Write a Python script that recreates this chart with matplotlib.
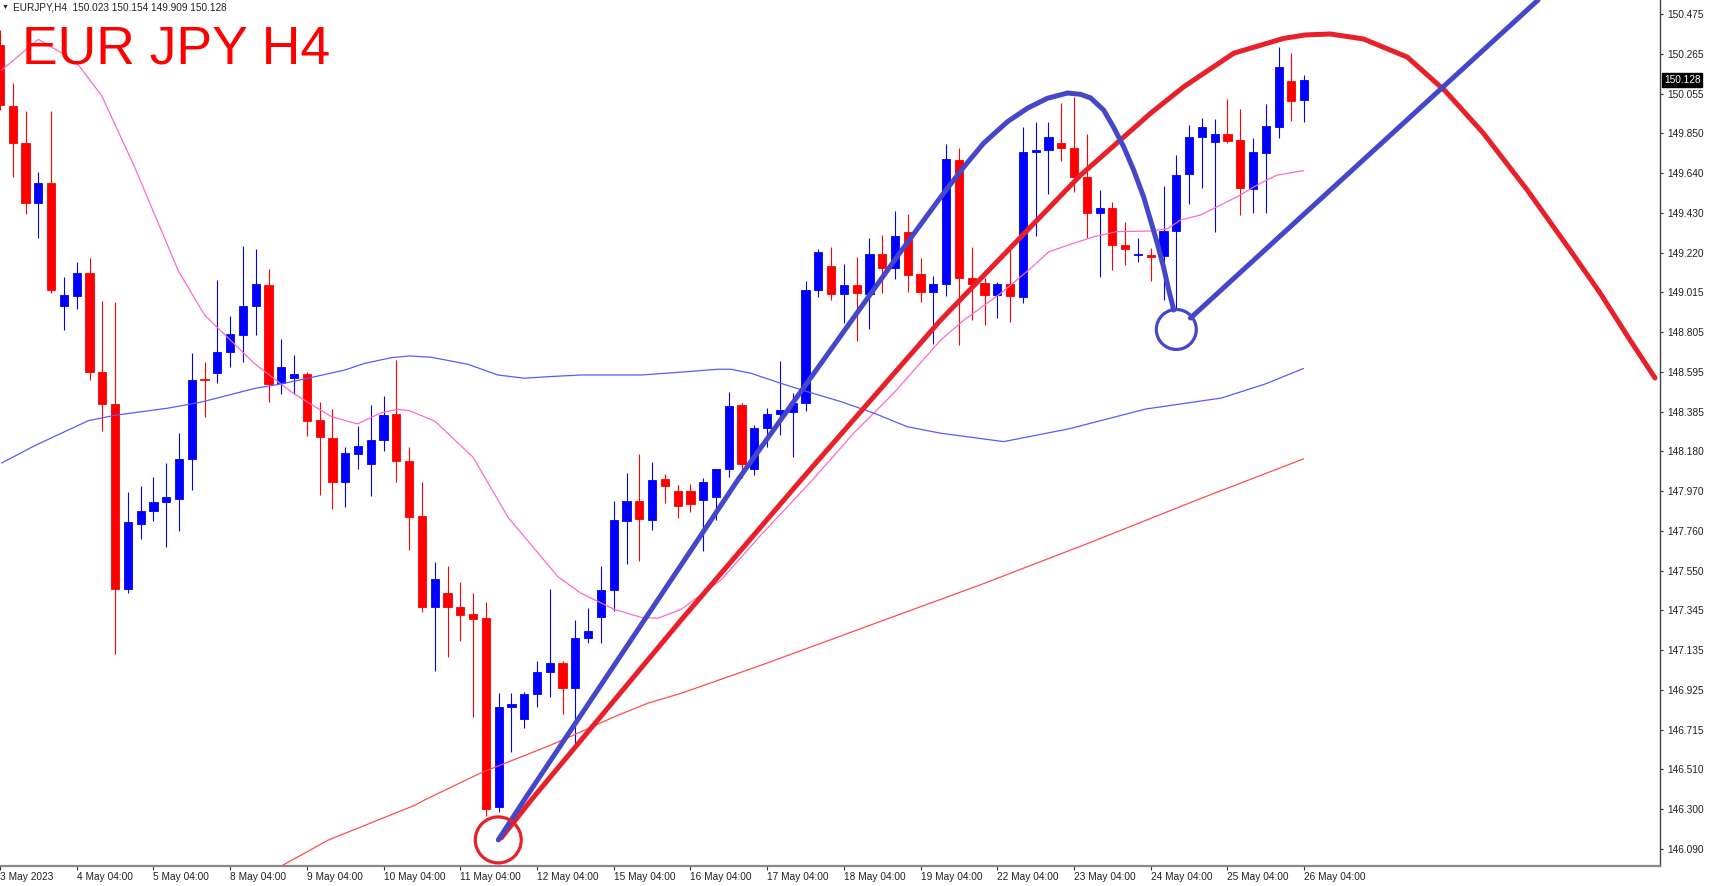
import matplotlib.pyplot as plt
from matplotlib.patches import Ellipse
from matplotlib.transforms import blended_transform_factory

plt.rcParams['font.family'] = ['Liberation Sans', 'DejaVu Sans']

# EURJPY H4 candles, 3 May 04:00 .. 26 May 04:00
opens = [150.312, 149.990, 149.798, 149.483, 149.586, 148.939, 148.993, 149.115, 148.596, 148.424,
         147.453, 147.798, 147.865, 147.913, 147.930, 148.138, 148.558, 148.592, 148.700, 148.789,
         148.939, 149.052, 148.537, 148.564, 148.583, 148.343, 148.250, 148.019, 148.162, 148.111,
         148.238, 148.372, 148.129, 147.838, 147.362, 147.432, 147.359, 147.322, 147.304, 146.310,
         146.837, 146.771, 146.904, 147.021, 147.065, 146.933, 147.199, 147.306, 147.450, 147.812,
         147.917, 147.817, 148.031, 147.971, 147.970, 147.922, 147.938, 148.085, 148.421, 148.085,
         148.299, 148.374, 148.386, 148.433, 149.025, 149.153, 149.004, 149.052, 149.004, 149.213,
         149.139, 149.328, 149.108, 149.013, 149.055, 149.708, 149.090, 149.064, 148.999, 149.055,
         148.990, 149.752, 149.761, 149.799, 149.773, 149.620, 149.431, 149.454, 149.262, 149.207,
         149.209, 149.206, 149.337, 149.633, 149.827, 149.804, 149.845, 149.813, 149.556, 149.746,
         149.883, 150.123, 150.023]
highs = [150.391, 150.115, 149.967, 149.643, 149.967, 149.095, 149.170, 149.192, 148.968, 148.963,
         147.965, 147.998, 148.043, 148.117, 148.275, 148.695, 148.645, 149.076, 148.889, 149.258,
         149.239, 149.136, 148.766, 148.684, 148.596, 148.439, 148.399, 148.199, 148.311, 148.421,
         148.469, 148.658, 148.199, 148.015, 147.595, 147.576, 147.493, 147.432, 147.385, 146.907,
         146.907, 146.916, 147.078, 147.455, 147.078, 147.292, 147.354, 147.576, 147.919, 148.066,
         148.164, 148.124, 148.057, 148.001, 148.006, 148.038, 148.085, 148.488, 148.430, 148.316,
         148.404, 148.654, 148.483, 149.074, 149.241, 149.250, 149.160, 149.197, 149.300, 149.314,
         149.440, 149.423, 149.195, 149.099, 149.791, 149.770, 149.253, 149.087, 149.069, 149.235,
         149.883, 149.909, 149.906, 150.006, 150.041, 149.845, 149.551, 149.489, 149.384, 149.297,
         149.244, 149.572, 149.733, 149.892, 149.927, 149.923, 150.029, 149.976, 149.822, 150.000,
         150.303, 150.269, 150.154]
lows = [149.971, 149.618, 149.423, 149.301, 149.010, 148.813, 148.924, 148.555, 148.283, 147.114,
        147.434, 147.720, 147.814, 147.673, 147.758, 147.973, 148.358, 148.536, 148.621, 148.648,
        148.789, 148.438, 148.479, 148.479, 148.260, 147.949, 147.874, 147.887, 148.084, 147.944,
        148.181, 148.015, 147.660, 147.333, 147.026, 147.099, 147.183, 146.784, 146.263, 146.281,
        146.601, 146.723, 146.837, 146.886, 146.798, 146.645, 147.173, 147.173, 147.341, 147.585,
        147.602, 147.765, 147.908, 147.826, 147.859, 147.655, 147.817, 148.045, 148.036, 148.054,
        148.202, 148.264, 148.150, 148.391, 148.990, 148.973, 148.854, 148.759, 148.821, 149.008,
        149.083, 149.013, 148.964, 148.742, 148.995, 148.737, 148.868, 148.842, 148.878, 148.857,
        148.956, 149.311, 149.528, 149.704, 149.542, 149.300, 149.092, 149.130, 149.157, 149.174,
        149.074, 148.973, 148.920, 149.475, 149.560, 149.330, 149.796, 149.419, 149.430, 149.431,
        149.822, 149.915, 149.909]
closes = [149.997, 149.798, 149.483, 149.586, 149.023, 148.997, 149.115, 148.596, 148.424, 147.453,
          147.808, 147.866, 147.913, 147.936, 148.138, 148.553, 148.550, 148.700, 148.793, 148.939,
          149.055, 148.532, 148.621, 148.583, 148.339, 148.252, 148.019, 148.168, 148.208, 148.238,
          148.369, 148.127, 147.835, 147.362, 147.506, 147.362, 147.318, 147.297, 146.300, 146.837,
          146.851, 146.904, 147.018, 147.065, 146.933, 147.199, 147.236, 147.450, 147.817, 147.917,
          147.823, 148.027, 147.996, 147.893, 147.901, 148.017, 148.085, 148.418, 148.110, 148.299,
          148.374, 148.395, 148.433, 149.025, 149.223, 149.004, 149.052, 149.008, 149.214, 149.139,
          149.311, 149.104, 149.016, 149.057, 149.712, 149.087, 149.055, 148.999, 149.055, 148.995,
          149.749, 149.761, 149.831, 149.773, 149.617, 149.431, 149.454, 149.262, 149.239, 149.212,
          149.200, 149.337, 149.629, 149.829, 149.880, 149.845, 149.809, 149.560, 149.749, 149.887,
          150.198, 150.020, 150.128]

tick_idx = [0, 6, 12, 18, 24, 30, 36, 42, 48, 54, 60, 66, 72, 78, 84, 90, 96, 102]
tick_labels = ['3 May 2023', '4 May 04:00', '5 May 04:00', '8 May 04:00', '9 May 04:00',
               '10 May 04:00', '11 May 04:00', '12 May 04:00', '15 May 04:00', '16 May 04:00',
               '17 May 04:00', '18 May 04:00', '19 May 04:00', '22 May 04:00', '23 May 04:00',
               '24 May 04:00', '25 May 04:00', '26 May 04:00']
price_ticks = [150.475, 150.265, 150.055, 149.850, 149.640, 149.430, 149.220, 149.015, 148.805,
               148.595, 148.385, 148.180, 147.970, 147.760, 147.550, 147.345, 147.135, 146.925,
               146.715, 146.510, 146.300, 146.090]

# moving averages at these bar positions
ma_fast_x = [0.14, 3.0, 4.83, 6.2, 7.95, 10.53, 13.94, 16.0, 19.9, 22.93, 25.92, 27.95, 29.83,
             31.13, 32.04, 34.0, 37.0, 39.73, 43.63, 45.45, 48.05, 50.14, 51.45, 53.27, 56.39,
             59.52, 63.55, 66.78, 69.9, 73.58, 75.4, 78.27, 80.61, 82.04, 83.99, 85.55, 87.38,
             89.98, 91.29, 92.33, 93.89, 95.2, 96.76, 98.58, 99.88, 101.96]
ma_fast_y = [150.181, 150.342, 150.270, 150.202, 150.046, 149.671, 149.127, 148.894, 148.639,
             148.483, 148.360, 148.322, 148.381, 148.399, 148.391, 148.337, 148.147, 147.832,
             147.520, 147.432, 147.348, 147.306, 147.301, 147.348, 147.502, 147.739, 148.028,
             148.274, 148.484, 148.763, 148.868, 149.008, 149.139, 149.227, 149.271, 149.305,
             149.332, 149.335, 149.346, 149.393, 149.419, 149.463, 149.515, 149.586, 149.629,
             149.652]
ma_mid_x = [0.14, 2.72, 6.91, 8.97, 13.16, 15.77, 19.9, 22.0, 24.1, 26.96, 28.52, 30.61, 32.04,
            33.73, 36.6, 38.94, 41.02, 42.85, 45.45, 50.14, 52.74, 56.13, 57.17, 58.73, 61.08,
            63.16, 65.77, 68.37, 70.97, 73.58, 78.5, 83.66, 89.59, 95.53, 98.97, 101.94]
ma_mid_y = [148.117, 148.208, 148.339, 148.367, 148.405, 148.437, 148.508, 148.532, 148.562,
            148.605, 148.640, 148.670, 148.679, 148.672, 148.635, 148.579, 148.562, 148.570,
            148.579, 148.579, 148.591, 148.609, 148.609, 148.588, 148.535, 148.491, 148.439,
            148.378, 148.307, 148.273, 148.229, 148.297, 148.400, 148.458, 148.532, 148.613]
ma_slow_x = [22.0, 25.7, 32.48, 33.21, 37.64, 43.11, 45.45, 48.05, 50.66, 53.27, 59.75, 68.27,
             76.8, 85.3, 93.9, 101.94]
ma_slow_y = [146.000, 146.137, 146.320, 146.347, 146.490, 146.636, 146.705, 146.784, 146.855,
             146.907, 147.060, 147.270, 147.480, 147.700, 147.930, 148.138]

# hand drawn analysis marks (bar position, price)
red_curve_x = [39.2, 41.55, 53.27, 62.64, 73.58, 84.52, 89.98, 92.59, 96.49, 100.4, 102.09,
               104.05, 106.63, 110.06, 113.03, 116.0, 119.44, 122.8, 125.14, 127.48, 129.44]
red_curve_y = [146.147, 146.347, 147.292, 148.027, 148.868, 149.629, 149.953, 150.093, 150.269,
               150.347, 150.365, 150.370, 150.344, 150.249, 150.071, 149.850, 149.551, 149.235,
               149.010, 148.763, 148.563]
blue_curve_x = [38.97, 41.0, 53.27, 57.7, 70.45, 73.58, 75.4, 76.94, 78.79, 80.38, 81.91, 83.5,
                84.52, 85.3, 86.31, 87.09, 87.88, 88.66, 89.44, 89.98, 90.51, 91.0, 91.41, 91.8]
blue_curve_y = [146.137, 146.347, 147.581, 148.027, 149.227, 149.514, 149.673, 149.797, 149.909,
                149.981, 150.032, 150.060, 150.053, 150.034, 149.971, 149.881, 149.778, 149.656,
                149.515, 149.393, 149.271, 149.146, 149.025, 148.920]
blue_line_x = [93.11, 120.3]
blue_line_y = [148.878, 150.549]
red_circle = (38.97, 146.137)
blue_circle = (92.0, 148.818)

fig = plt.figure(figsize=(17.1, 8.86), dpi=100)
ax = fig.add_axes([0, 20 / 886, 1660 / 1710, 866 / 886])

idx = list(range(len(opens)))
cols = ['#0000ff' if c >= o else '#ff0000' for o, c in zip(opens, closes)]
bottoms = [min(o, c) for o, c in zip(opens, closes)]
heights = [abs(c - o) for o, c in zip(opens, closes)]

ax.vlines(idx, lows, highs, colors=cols, linewidth=0.8, zorder=2)
ax.bar(idx, heights, bottom=bottoms, width=0.64, color=cols, edgecolor=cols,
       linewidth=0.6, zorder=3)

ax.plot(ma_fast_x, ma_fast_y, color='#ff6ac8', lw=0.9, zorder=4)
ax.plot(ma_mid_x, ma_mid_y, color='#5a5aff', lw=0.9, zorder=4)
ax.plot(ma_slow_x, ma_slow_y, color='#ff4d4d', lw=0.9, zorder=4)

ax.plot(red_curve_x, red_curve_y, color='#e8202a', lw=3.6, solid_capstyle='round',
        solid_joinstyle='round', zorder=6)
ax.plot(blue_curve_x, blue_curve_y, color='#4347c8', lw=3.6, solid_capstyle='round',
        solid_joinstyle='round', zorder=6)
ax.plot(blue_line_x, blue_line_y, color='#4347c8', lw=3.6, solid_capstyle='round', zorder=6)
ax.add_patch(Ellipse(red_circle, 46 / 12.8, 46 / 190.4, fill=False, ec='#e8202a', lw=2.3, zorder=7))
ax.add_patch(Ellipse(blue_circle, 40 / 12.8, 40 / 190.4, fill=False, ec='#4347c8', lw=2.3, zorder=7))

ax.set_xlim(0.14, 129.83)
ax.set_ylim(146.0, 150.5485)

ax.yaxis.tick_right()
ax.set_yticks(price_ticks)
ax.set_yticklabels([f'{v:.3f}' for v in price_ticks])
ax.set_xticks(tick_idx)
ax.set_xticklabels(tick_labels)
for lab in ax.get_xticklabels():
    lab.set_ha('left')
ax.tick_params(axis='y', direction='out', length=2.5, width=0.8, pad=3, labelsize=7.3,
               colors='#333333', labelcolor='#222222')
ax.tick_params(axis='x', direction='out', length=3, width=0.8, pad=1.5, labelsize=7.3,
               colors='#333333', labelcolor='#222222')

for side in ['top', 'left']:
    ax.spines[side].set_visible(False)
ax.spines['right'].set_color('#444444')
ax.spines['right'].set_linewidth(1.0)
ax.spines['bottom'].set_color('#888888')
ax.spines['bottom'].set_linewidth(1.6)

trans = blended_transform_factory(ax.transAxes, ax.transData)
ax.text(1.0 + 4 / 1660, closes[-1], f'{closes[-1]:.3f}', transform=trans, ha='left', va='center',
        color='white', fontsize=7.3, bbox=dict(boxstyle='square,pad=0.18', fc='black', ec='black'))

fig.text(2 / 1710, 1 - 7 / 886, '\u25bc', fontsize=5, va='center', color='#222222')
fig.text(13 / 1710, 1 - 7 / 886,
         f'EURJPY,H4  {opens[-1]:.3f} {highs[-1]:.3f} {lows[-1]:.3f} {closes[-1]:.3f}',
         fontsize=7.2, va='center', color='#222222')
fig.text(22 / 1710, 1 - 63 / 886, 'EUR JPY H4', fontsize=38.5, color='#ff0000', va='baseline')

fig.savefig('out.png', dpi=100)
